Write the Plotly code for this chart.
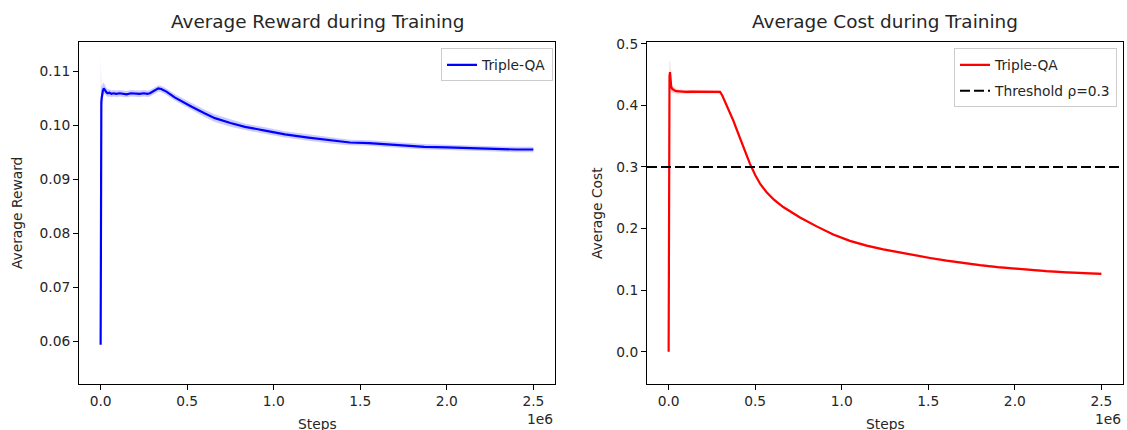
import plotly.graph_objects as go

# ---------------- data ----------------
reward_steps = [0, 1000, 1500, 2500, 4000, 6000, 9000, 13000, 18000, 22000, 27000, 33000,
                40000, 50000, 62000, 75000, 90000, 110000, 130000, 150000, 175000, 200000,
                225000, 250000, 270000, 285000, 300000, 315000, 333000, 350000, 380000,
                430000, 480000, 526000, 600000, 660000, 750000, 834000, 950000,
                1065000, 1200000, 1353000, 1440000, 1550000, 1670000, 1750000,
                1870000, 2000000, 2150000, 2287000, 2400000, 2500000]
reward_mean = [0.0594, 0.1010, 0.1030, 0.1036, 0.1042, 0.1050, 0.1058, 0.1064, 0.1068, 0.1067,
               0.1064, 0.1061, 0.1059, 0.1060, 0.1058, 0.1059, 0.1058, 0.1059, 0.1058, 0.1057,
               0.1059, 0.1058, 0.1058, 0.1059, 0.1058, 0.1059, 0.1062, 0.1066, 0.1068, 0.1067,
               0.1062, 0.1051, 0.1042, 0.1034, 0.1022, 0.1013, 0.1004, 0.0997, 0.0990,
               0.0983, 0.0977, 0.0971, 0.0968, 0.0967, 0.0964, 0.0962, 0.0960, 0.0959,
               0.0957, 0.0956, 0.0955, 0.0955]
reward_std = [0.0042, 0.0114, 0.0060, 0.0040, 0.0030, 0.0022, 0.0017, 0.0013, 0.0011, 0.0009,
              0.0008, 0.0008, 0.0007, 0.0007, 0.0006, 0.0006, 0.0006, 0.0006, 0.0006, 0.0006,
              0.0006, 0.0006, 0.0006, 0.0006, 0.0006, 0.0006, 0.0006, 0.0006, 0.0006, 0.0006,
              0.0006, 0.0006, 0.0006, 0.0007, 0.0007, 0.0007, 0.0007, 0.0006, 0.0006,
              0.0006, 0.0006, 0.0006, 0.0005, 0.0005, 0.0005, 0.0005, 0.0005, 0.0005,
              0.0005, 0.0005, 0.0005, 0.0005]

cost_steps = [0, 1500, 3000, 5000, 8000, 11000, 15000, 20000, 27000, 35000, 45000, 60000,
              80000, 100000, 130000, 160000, 200000, 240000, 270000, 290000, 297000, 310000,
              335000, 374000, 412000, 440000, 470000, 500000, 530000, 566000, 610000, 662000,
              710000, 759000, 855000, 951000, 1047000, 1144000, 1240000, 1336000, 1413000,
              1510000, 1606000, 1700000, 1798000, 1900000, 1990000, 2090000, 2183000, 2300000,
              2400000, 2500000]
cost_mean = [0.000, 0.300, 0.420, 0.448, 0.454, 0.440, 0.430, 0.427, 0.425, 0.424, 0.423, 0.4225,
             0.4222, 0.4218, 0.4222, 0.4220, 0.4221, 0.4219, 0.4221, 0.4220, 0.4218, 0.4160,
             0.4010, 0.3750, 0.3470, 0.3260, 0.3050, 0.2870, 0.2720, 0.2590, 0.2465, 0.2350,
             0.2260, 0.2180, 0.2035, 0.1905, 0.1800, 0.1722, 0.1662, 0.1610, 0.1570,
             0.1522, 0.1478, 0.1440, 0.1405, 0.1374, 0.1350, 0.1327, 0.1308, 0.1290,
             0.1277, 0.1265]
cost_std = [0.025, 0.020, 0.018, 0.022, 0.020, 0.012, 0.008, 0.006, 0.005, 0.004, 0.004, 0.003,
            0.003, 0.003, 0.0025, 0.0025, 0.0025, 0.0025, 0.0025, 0.0025, 0.0025, 0.0025,
            0.0025, 0.0025, 0.0025, 0.0025, 0.0025, 0.0025, 0.0025, 0.0025, 0.0025, 0.002,
            0.002, 0.002, 0.002, 0.002, 0.002, 0.002, 0.002, 0.002, 0.002,
            0.002, 0.002, 0.002, 0.002, 0.002, 0.002, 0.002, 0.002, 0.002,
            0.002, 0.002]

threshold = 0.3
x_tickvals = [0, 500000, 1000000, 1500000, 2000000, 2500000]
x_ticktext = ["0.0", "0.5", "1.0", "1.5", "2.0", "2.5"]
reward_ticks = [0.06, 0.07, 0.08, 0.09, 0.10, 0.11]
cost_ticks = [0.0, 0.1, 0.2, 0.3, 0.4, 0.5]

FONT = "DejaVu Sans"
TXT = "#262626"
FS = 13.8

fig = go.Figure()

# reward band + line
r_up = [m + s for m, s in zip(reward_mean, reward_std)]
r_lo = [m - s for m, s in zip(reward_mean, reward_std)]
fig.add_trace(go.Scatter(x=reward_steps, y=r_up, mode="lines", line=dict(width=0),
                         showlegend=False, hoverinfo="skip", xaxis="x", yaxis="y"))
fig.add_trace(go.Scatter(x=reward_steps, y=r_lo, mode="lines", line=dict(width=0),
                         fill="tonexty", fillcolor="rgba(0,0,255,0.2)",
                         showlegend=False, hoverinfo="skip", xaxis="x", yaxis="y"))
fig.add_trace(go.Scatter(x=reward_steps, y=reward_mean, mode="lines", name="Triple-QA",
                         line=dict(color="blue", width=2.2), xaxis="x", yaxis="y",
                         legend="legend", legendgroup="r"))

# cost band + line
c_up = [m + s for m, s in zip(cost_mean, cost_std)]
c_lo = [m - s for m, s in zip(cost_mean, cost_std)]
fig.add_trace(go.Scatter(x=cost_steps, y=c_up, mode="lines", line=dict(width=0),
                         showlegend=False, hoverinfo="skip", xaxis="x2", yaxis="y2"))
fig.add_trace(go.Scatter(x=cost_steps, y=c_lo, mode="lines", line=dict(width=0),
                         fill="tonexty", fillcolor="rgba(255,0,0,0.2)",
                         showlegend=False, hoverinfo="skip", xaxis="x2", yaxis="y2"))
fig.add_trace(go.Scatter(x=cost_steps, y=cost_mean, mode="lines", name="Triple-QA",
                         line=dict(color="red", width=2.2), xaxis="x2", yaxis="y2",
                         legend="legend2", legendgroup="c"))
fig.add_trace(go.Scatter(x=[None], y=[None], mode="lines", name="Threshold ρ=0.3",
                         line=dict(color="black", width=2, dash="10px,4px"),
                         xaxis="x2", yaxis="y2", legend="legend2", legendgroup="t"))

fig.add_shape(type="line", xref="x2 domain", x0=0, x1=1, yref="y2",
              y0=threshold, y1=threshold,
              line=dict(color="black", width=2, dash="10px,4px"))

W, H = 1127, 430
ydom = [1 - 383 / H, 1 - 36 / H]
axis_common = dict(showline=True, mirror=True, linecolor="black", linewidth=1,
                   ticks="outside", ticklen=5, tickwidth=1, tickcolor="black",
                   showgrid=False, zeroline=False,
                   tickfont=dict(family=FONT, size=FS, color=TXT))
leg_common = dict(bgcolor="rgba(255,255,255,0.8)", bordercolor="#cccccc", borderwidth=1,
                  font=dict(family=FONT, size=FS, color=TXT), itemwidth=30,
                  traceorder="grouped", tracegroupgap=5, yanchor="top", xanchor="right")

fig.update_layout(
    width=W, height=H, margin=dict(l=0, r=0, t=0, b=0),
    paper_bgcolor="white", plot_bgcolor="white",
    font=dict(family=FONT, color=TXT),
    xaxis=dict(domain=[79 / W, 555 / W], range=[-125000, 2625000],
               tickvals=x_tickvals, ticktext=x_ticktext, anchor="y", **axis_common),
    yaxis=dict(domain=ydom, range=[0.0522, 0.1153], tickvals=reward_ticks,
               tickformat=".2f", anchor="x", **axis_common),
    xaxis2=dict(domain=[647 / W, 1123 / W], range=[-125000, 2625000],
                tickvals=x_tickvals, ticktext=x_ticktext, anchor="y2", **axis_common),
    yaxis2=dict(domain=ydom, range=[-0.052, 0.5022], tickvals=cost_ticks,
                tickformat=".1f", anchor="x2", **axis_common),
    legend=dict(x=553 / W, y=1 - 42 / H, **leg_common),
    legend2=dict(x=1117 / W, y=1 - 42 / H, **leg_common),
)

anns = [
    dict(text="Average Reward during Training", xref="x domain", yref="paper",
         x=0.5, y=1 - 15 / H, xanchor="center", yanchor="middle",
         font=dict(size=18.4, family=FONT, color=TXT)),
    dict(text="Average Cost during Training", xref="x2 domain", yref="paper",
         x=0.5, y=1 - 15 / H, xanchor="center", yanchor="middle",
         font=dict(size=18.4, family=FONT, color=TXT)),
    dict(text="Steps", xref="x domain", yref="paper", x=0.5, y=1 - 424 / H,
         xanchor="center", yanchor="middle", font=dict(size=FS, family=FONT, color=TXT)),
    dict(text="Steps", xref="x2 domain", yref="paper", x=0.5, y=1 - 424 / H,
         xanchor="center", yanchor="middle", font=dict(size=FS, family=FONT, color=TXT)),
    dict(text="1e6", xref="x domain", yref="paper", x=1, y=1 - 419 / H,
         xanchor="right", yanchor="middle", font=dict(size=FS, family=FONT, color=TXT)),
    dict(text="1e6", xref="x2 domain", yref="paper", x=1, y=1 - 419 / H,
         xanchor="right", yanchor="middle", font=dict(size=FS, family=FONT, color=TXT)),
    dict(text="Average Reward", xref="paper", yref="y domain", x=17 / W, y=0.5,
         xanchor="center", yanchor="middle", textangle=-90,
         font=dict(size=FS, family=FONT, color=TXT)),
    dict(text="Average Cost", xref="paper", yref="y2 domain", x=597 / W, y=0.5,
         xanchor="center", yanchor="middle", textangle=-90,
         font=dict(size=FS, family=FONT, color=TXT)),
]
for a in anns:
    a["showarrow"] = False
    fig.add_annotation(**a)

fig.write_html("out.html",
               config={"displayModeBar": False},
               post_script="document.body.style.margin='0';"
                           "document.body.style.overflow='hidden';")
